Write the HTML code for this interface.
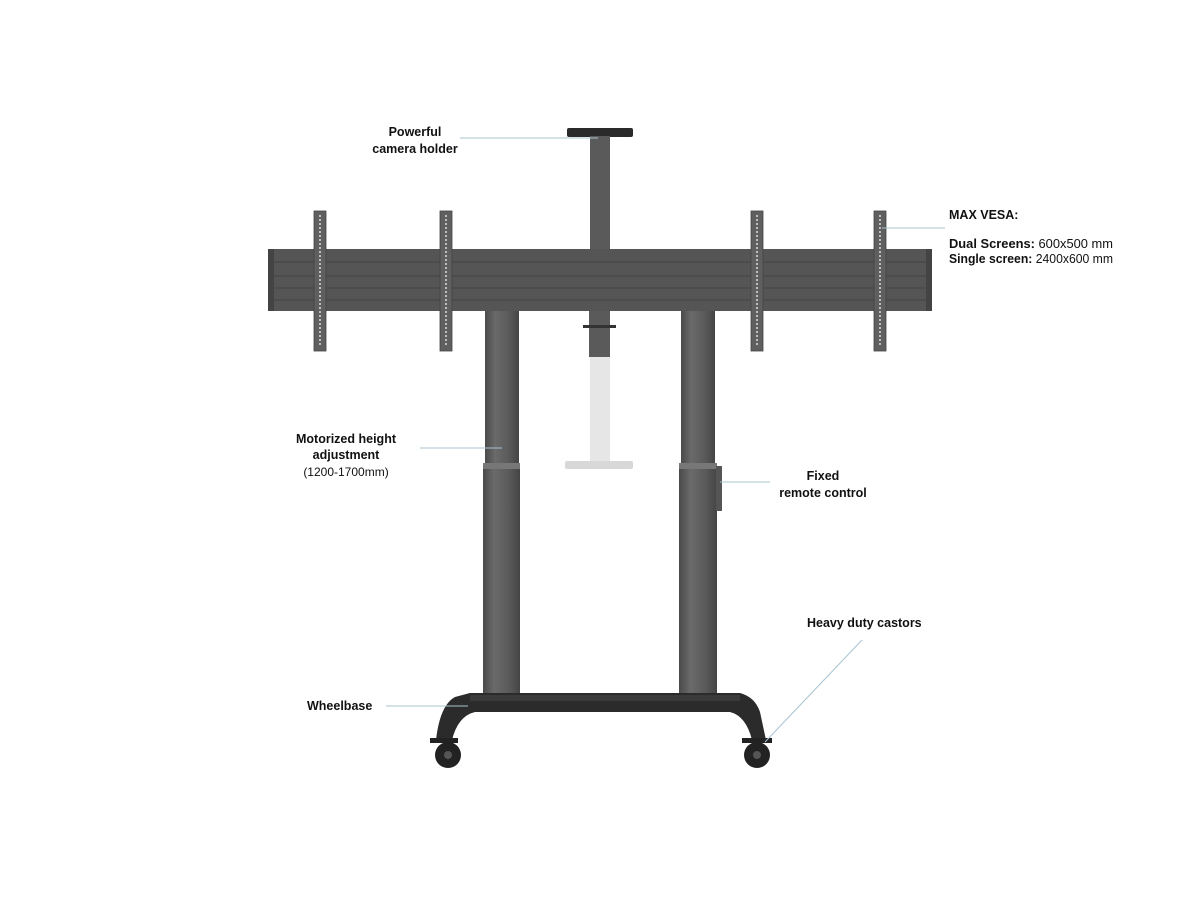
<!DOCTYPE html>
<html><head><meta charset="utf-8"><style>
html,body{margin:0;padding:0;background:#fff;}
svg{display:block}
text{font-family:"Liberation Sans",Arial,sans-serif;fill:#111;}
.b{font-weight:bold;font-size:12.5px}
.n{font-size:12px}
</style></head><body>
<svg width="1200" height="900" viewBox="0 0 1200 900">
<defs>
<linearGradient id="col" x1="0" x2="1" y1="0" y2="0">
<stop offset="0" stop-color="#4a4a4a"/><stop offset="0.3" stop-color="#6a6a6a"/><stop offset="0.7" stop-color="#5a5a5a"/><stop offset="1" stop-color="#444"/>
</linearGradient>
</defs>
<rect x="567" y="128" width="66" height="9" rx="2" fill="#2a2a2a"/>
<rect x="590" y="136" width="20" height="114" fill="#5a5a5a"/>
<rect x="268" y="249" width="664" height="62" fill="#555"/>
<rect x="268" y="249" width="6" height="62" fill="#444"/>
<rect x="926" y="249" width="6" height="62" fill="#444"/>
<g stroke="#444" stroke-width="1">
<line x1="274" y1="262" x2="926" y2="262"/><line x1="274" y1="276" x2="926" y2="276"/>
<line x1="274" y1="288" x2="926" y2="288"/><line x1="274" y1="300" x2="926" y2="300"/>
</g>
<g fill="#5f5f5f" stroke="#444" stroke-width="0.8">
<rect x="314" y="211" width="12" height="140"/>
<rect x="440" y="211" width="12" height="140"/>
<rect x="751" y="211" width="12" height="140"/>
<rect x="874" y="211" width="12" height="140"/>
</g>
<g stroke="#ddd" stroke-width="1.5" stroke-dasharray="2 2">
<line x1="320" y1="215" x2="320" y2="345"/><line x1="446" y1="215" x2="446" y2="345"/>
<line x1="757" y1="215" x2="757" y2="345"/><line x1="880" y1="215" x2="880" y2="345"/>
</g>
<rect x="589" y="311" width="21" height="46" fill="#5a5a5a"/>
<rect x="583" y="325" width="33" height="3" fill="#333"/>
<rect x="590" y="357" width="20" height="106" fill="#e6e6e6"/>
<rect x="565" y="461" width="68" height="8" rx="2" fill="#d8d8d8"/>
<rect x="485" y="311" width="34" height="155" fill="url(#col)"/>
<rect x="483" y="463" width="37" height="236" fill="url(#col)"/>
<rect x="483" y="463" width="37" height="6" fill="#777"/>
<rect x="681" y="311" width="34" height="155" fill="url(#col)"/>
<rect x="679" y="463" width="38" height="236" fill="url(#col)"/>
<rect x="679" y="463" width="38" height="6" fill="#777"/>
<rect x="716" y="466" width="6" height="45" fill="#555"/>
<path d="M470 693 L740 693 Q755 697 760 712 L766 740 L752 740 Q746 716 730 712 L475 712 Q458 716 452 740 L436 740 Q440 705 455 697 Z" fill="#2b2b2b"/>
<rect x="470" y="695" width="270" height="6" fill="#3a3a3a"/>
<g fill="#222">
<circle cx="448" cy="755" r="13"/><circle cx="757" cy="755" r="13"/>
<rect x="430" y="738" width="28" height="5"/><rect x="742" y="738" width="30" height="5"/>
</g>
<circle cx="448" cy="755" r="4" fill="#555"/><circle cx="757" cy="755" r="4" fill="#555"/>
<g stroke="#a9c4d2" stroke-width="1" fill="none">
<line x1="460" y1="138" x2="598" y2="138"/>
<line x1="882" y1="228" x2="945" y2="228"/>
<line x1="420" y1="448" x2="502" y2="448"/>
<line x1="720" y1="482" x2="770" y2="482"/>
<line x1="862" y1="640" x2="765" y2="742"/>
<line x1="386" y1="706" x2="468" y2="706"/>
</g>
<text class="b" x="415" y="136" text-anchor="middle">Powerful</text>
<text class="b" x="415" y="153" text-anchor="middle">camera holder</text>
<text class="b" x="949" y="219">MAX VESA:</text>
<text class="b" x="949" y="248" textLength="164" lengthAdjust="spacingAndGlyphs">Dual Screens: <tspan font-weight="normal">600x500 mm</tspan></text>
<text class="b" x="949" y="263" textLength="164" lengthAdjust="spacingAndGlyphs">Single screen: <tspan font-weight="normal">2400x600 mm</tspan></text>
<text class="b" x="346" y="443" text-anchor="middle">Motorized height</text>
<text class="b" x="346" y="459" text-anchor="middle">adjustment</text>
<text class="n" x="346" y="476" text-anchor="middle">(1200-1700mm)</text>
<text class="b" x="823" y="480" text-anchor="middle">Fixed</text>
<text class="b" x="823" y="497" text-anchor="middle">remote control</text>
<text class="b" x="807" y="627">Heavy duty castors</text>
<text class="b" x="307" y="710">Wheelbase</text>
</svg>
</body></html>
